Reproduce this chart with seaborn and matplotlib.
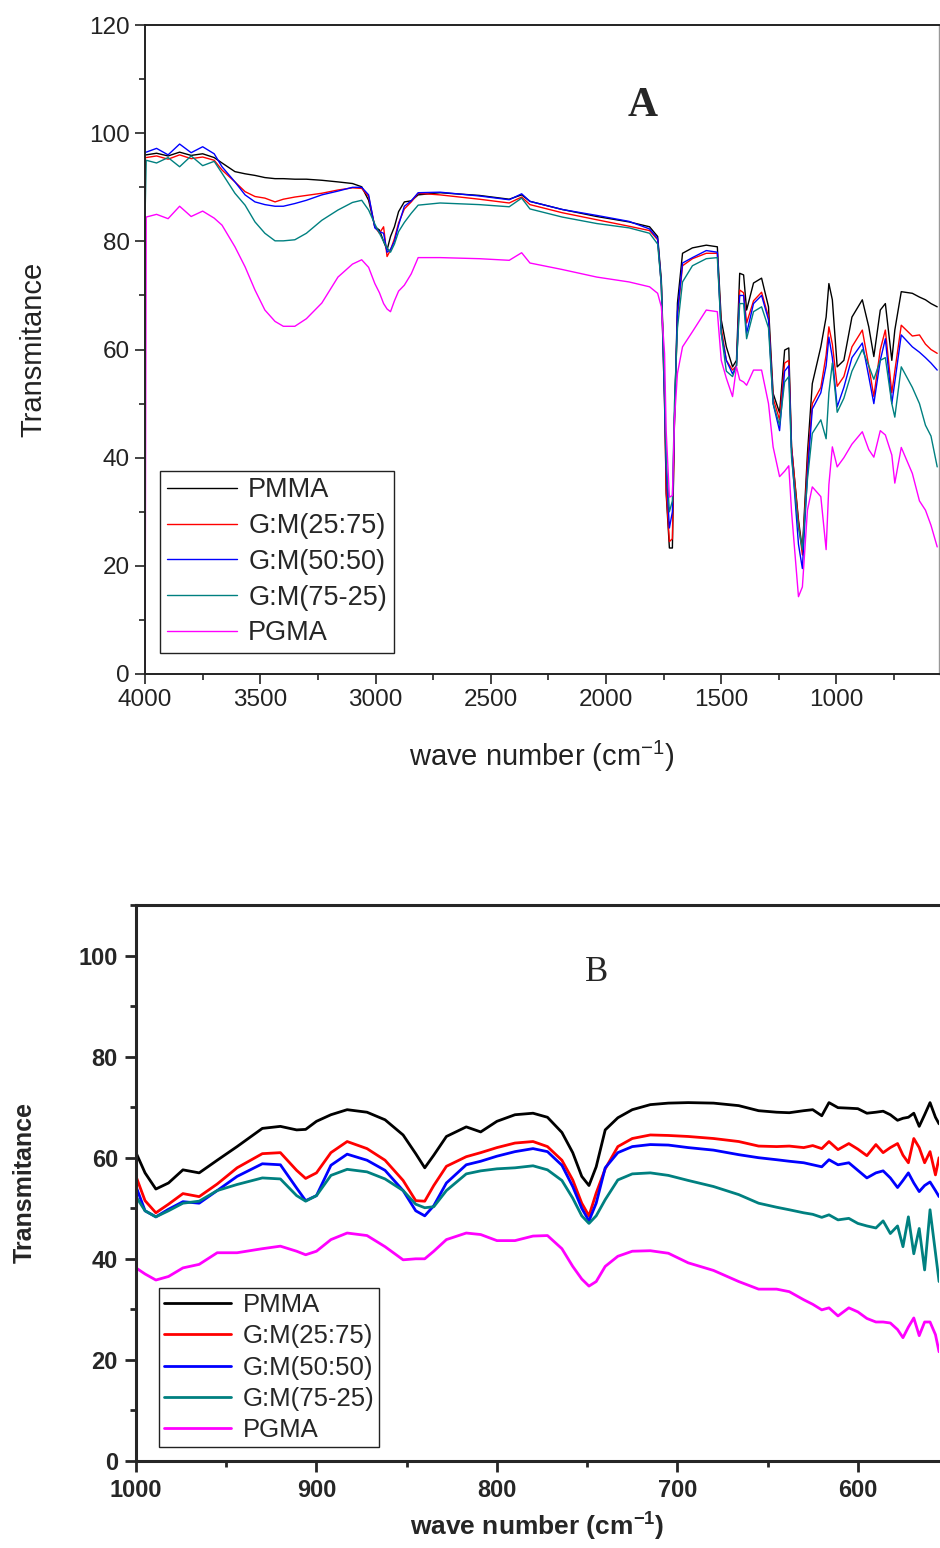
import matplotlib
matplotlib.use('Agg')
import matplotlib.pyplot as plt
from matplotlib.ticker import MultipleLocator
import seaborn as sns

# ---- panel A: full range spectra ----
wn_a = [4000, 3995, 3950, 3900, 3850, 3800, 3750, 3700,
        3666, 3610, 3566, 3523, 3480, 3436, 3400, 3350, 3300, 3233, 3163, 3100,
        3060, 3030, 3003, 2983, 2965, 2950, 2935, 2918, 2900, 2875, 2845, 2815,
        2720, 2550, 2420, 2366, 2330, 2190, 2040, 1900,
        1811, 1776, 1760, 1746, 1739, 1725, 1712, 1703, 1690, 1668, 1625, 1565, 1517, 1500,
        1478, 1451, 1434, 1420, 1403, 1390, 1360, 1325, 1295, 1275, 1247, 1225, 1207, 1195,
        1165, 1148, 1126, 1105, 1068, 1045, 1033, 1018, 997, 968, 933, 888,
        860, 838, 810, 788, 760, 747, 719, 671, 640, 614, 590, 563]

pmma_a = [96.0, 96.0, 96.3, 95.8, 96.5, 95.9, 96.2, 95.5,
          94.5, 92.9, 92.5, 92.2, 91.8, 91.6, 91.6, 91.5, 91.5, 91.3, 91.0, 90.7,
          90.1, 87.6, 82.7, 82.1, 80.0, 78.4, 80.9, 82.7, 85.5, 87.3, 87.5, 88.6,
          89.0, 88.5, 87.8, 88.6, 87.4, 85.9, 84.6, 83.6,
          82.7, 80.9, 72.9, 53.1, 33.4, 23.3, 23.3, 47.0, 68.6, 77.8, 78.8, 79.3, 79.0, 65.5,
          60.5, 56.8, 58.0, 74.1, 73.8, 67.3, 72.3, 73.2, 67.9, 51.9, 48.3, 59.9, 60.3, 42.0,
          28.5, 22.9, 40.8, 53.7, 60.5, 66.0, 72.2, 69.2, 56.8, 58.0, 66.0, 69.2,
          64.2, 58.7, 67.3, 68.5, 58.0, 63.6, 70.7, 70.4, 69.7, 69.2, 68.5, 67.9]

gm2575_a = [95.5, 95.5, 95.8, 95.2, 96.0, 95.3, 95.6, 95.0,
            93.2, 91.0, 89.2, 88.3, 88.0, 87.3, 87.8, 88.2, 88.5, 88.9, 89.5, 89.9,
            89.8, 88.3, 82.7, 81.5, 82.7, 77.2, 78.4, 80.5, 83.4, 86.0, 87.3, 88.9,
            88.6, 87.8, 87.1, 88.2, 86.8, 85.3, 84.0, 82.8,
            82.0, 80.3, 72.0, 50.0, 34.0, 24.5, 25.0, 47.0, 66.0, 75.5, 76.8, 77.8, 77.8, 64.0,
            58.0, 56.2, 57.0, 71.0, 70.5, 64.9, 69.0, 70.6, 66.0, 51.0, 47.0, 57.5, 58.0, 42.0,
            28.0, 22.0, 39.0, 50.0, 53.0, 59.0, 64.2, 61.0, 53.2, 55.0, 60.5, 63.6,
            57.0, 51.3, 60.0, 63.6, 52.0, 56.0, 64.5, 62.5, 62.7, 61.0, 60.0, 59.3]

gm5050_a = [96.5, 96.5, 97.2, 96.0, 98.0, 96.4, 97.5, 96.2,
            93.8, 91.0, 88.6, 87.3, 86.8, 86.5, 86.5, 87.0, 87.6, 88.6, 89.3, 90.0,
            90.0, 88.6, 82.5, 81.8, 81.5, 78.0, 78.5, 80.0, 83.0, 86.5, 87.5, 89.0,
            89.1, 88.4, 87.7, 88.8, 87.4, 85.9, 84.8, 83.7,
            82.3, 80.5, 72.0, 50.0, 38.0, 27.0, 30.0, 47.0, 67.0, 76.0, 77.0, 78.3, 78.0, 63.0,
            58.0, 55.5, 57.0, 70.0, 70.0, 63.0, 68.5, 70.0, 65.5, 50.0, 45.0, 56.0, 57.0, 41.0,
            24.0, 19.5, 37.0, 49.0, 52.0, 57.0, 62.3, 58.5, 49.4, 53.0, 58.5, 61.2,
            55.0, 50.0, 58.0, 62.0, 50.0, 54.0, 62.7, 60.5, 59.5, 58.5, 57.5, 56.2]

gm7525_a = [84.5, 95.0, 94.5, 95.5, 93.8, 95.8, 94.0, 94.8,
            92.6, 88.9, 86.7, 83.6, 81.5, 80.1, 80.1, 80.3, 81.5, 83.9, 85.8, 87.2,
            87.6, 85.8, 83.2, 81.5, 80.0, 78.8, 78.0, 79.5, 81.8, 83.5, 85.2, 86.7,
            87.1, 86.8, 86.4, 88.0, 86.0, 84.5, 83.3, 82.5,
            81.5, 79.5, 72.0, 52.0, 40.0, 30.0, 32.0, 50.0, 64.0, 72.5, 75.5, 76.8, 77.0, 63.0,
            56.0, 55.0, 57.0, 68.5, 68.5, 62.0, 67.0, 67.9, 64.0, 50.0, 46.0, 54.0, 55.0, 40.0,
            27.0, 23.0, 36.0, 44.5, 47.0, 43.5, 52.0, 57.5, 48.4, 51.0, 56.0, 60.0,
            57.0, 54.5, 58.0, 58.5, 50.0, 47.5, 56.8, 53.0, 50.0, 46.0, 44.0, 38.3]

pgma_a = [0.0, 84.5, 85.0, 84.2, 86.5, 84.6, 85.6, 84.3,
          83.0, 79.0, 75.3, 71.0, 67.3, 65.2, 64.3, 64.3, 65.7, 68.6, 73.4, 75.8,
          76.6, 75.2, 72.2, 70.5, 68.5, 67.5, 67.0, 69.0, 70.8, 71.9, 74.0, 77.0,
          77.0, 76.8, 76.5, 77.9, 76.0, 74.8, 73.4, 72.5,
          71.6, 70.4, 67.9, 59.3, 45.0, 32.7, 33.0, 47.0, 55.6, 60.5, 63.3, 67.3, 67.0, 58.0,
          54.7, 51.3, 56.8, 54.4, 54.0, 53.4, 56.2, 56.2, 50.0, 42.0, 36.5, 37.5, 38.5, 30.0,
          14.3, 16.1, 30.3, 34.6, 32.8, 23.0, 35.0, 42.0, 38.3, 40.0, 42.5, 44.8,
          41.5, 40.1, 45.0, 44.2, 40.5, 35.3, 41.9, 37.1, 32.0, 30.3, 27.5, 23.5]

# ---- panel B: 1000-555 cm-1 zoom ----
wn_b = [1000, 995, 989, 982, 974, 965, 955, 944, 930, 920,
        911, 906, 900, 892, 883, 872, 862, 852, 845, 840,
        835, 828, 817, 809, 800, 790, 780, 772, 764, 758,
        753, 749, 745, 740, 733, 725, 715, 705, 694, 680,
        666, 655, 645, 638, 630, 625, 620, 616, 611, 605,
        600, 595, 590, 586, 582, 578, 575, 572, 569, 566,
        563, 560, 557, 555]

pmma_b = [61.0, 57.0, 53.8, 55.0, 57.6, 57.0, 59.5, 62.2, 65.8, 66.2,
          65.5, 65.6, 67.2, 68.5, 69.5, 69.0, 67.5, 64.5, 60.8, 58.0,
          60.5, 64.2, 66.1, 65.1, 67.2, 68.5, 68.8, 68.0, 65.0, 61.0,
          56.3, 54.5, 58.2, 65.5, 67.9, 69.5, 70.5, 70.8, 70.9, 70.8,
          70.3, 69.3, 69.0, 68.9, 69.3, 69.5, 68.3, 70.9, 69.9, 69.8,
          69.7, 68.8, 69.0, 69.2, 68.5, 67.4, 67.8, 68.0, 68.8, 66.2,
          68.5, 70.9, 68.0, 66.7]

gm2575_b = [56.3, 51.5, 49.1, 50.8, 52.9, 52.3, 54.8, 58.0, 60.8, 61.0,
            57.5, 55.9, 57.0, 61.0, 63.2, 61.8, 59.5, 55.5, 51.5, 51.4,
            54.5, 58.3, 60.2, 61.0, 62.0, 62.9, 63.2, 62.2, 59.5, 55.6,
            51.0, 48.5, 53.0, 57.8, 62.2, 63.8, 64.5, 64.4, 64.2, 63.8,
            63.2, 62.3, 62.2, 62.3, 62.0, 62.4, 61.8, 63.2, 61.6, 62.8,
            61.7, 60.4, 62.6, 61.0, 62.0, 62.8, 60.5, 59.0, 63.8, 62.0,
            59.0, 61.2, 56.6, 60.0]

gm5050_b = [54.3, 49.5, 48.3, 49.8, 51.3, 51.0, 53.5, 56.3, 58.8, 58.6,
            54.0, 51.5, 52.5, 58.5, 60.7, 59.5, 57.5, 53.5, 49.5, 48.5,
            50.5, 55.0, 58.6, 59.3, 60.3, 61.2, 61.8, 61.2, 58.5, 54.3,
            50.0, 47.5, 51.0, 58.0, 61.0, 62.2, 62.6, 62.5, 62.0, 61.5,
            60.6, 60.0, 59.6, 59.3, 59.0, 58.6, 58.2, 59.6, 58.6, 59.0,
            57.5, 56.0, 57.0, 57.4, 56.0, 54.1, 55.5, 57.0, 55.0, 53.3,
            54.5, 55.2, 53.5, 52.3]

gm7525_b = [52.3, 49.5, 48.3, 49.5, 51.0, 51.4, 53.5, 54.7, 56.0, 55.8,
            52.5, 51.4, 52.5, 56.5, 57.7, 57.2, 55.8, 53.5, 50.8, 50.1,
            50.3, 53.5, 56.8, 57.4, 57.8, 58.0, 58.4, 57.6, 55.5, 52.0,
            48.5, 47.0, 48.5, 51.7, 55.6, 56.8, 57.0, 56.5, 55.5, 54.3,
            52.7, 51.0, 50.2, 49.7, 49.1, 48.8, 48.2, 48.7, 47.7, 48.0,
            47.0, 46.5, 46.1, 47.5, 45.0, 46.5, 42.4, 48.3, 41.0, 46.0,
            37.8, 49.7, 41.2, 35.5]

pgma_b = [38.2, 37.0, 35.8, 36.5, 38.2, 38.9, 41.2, 41.2, 42.0, 42.5,
          41.5, 40.8, 41.5, 43.8, 45.1, 44.6, 42.4, 39.8, 40.0, 40.0,
          41.5, 43.8, 45.1, 44.8, 43.6, 43.6, 44.5, 44.6, 42.0, 38.5,
          36.0, 34.6, 35.5, 38.5, 40.5, 41.5, 41.6, 41.1, 39.2, 37.7,
          35.5, 34.0, 34.0, 33.5, 31.9, 31.0, 29.9, 30.3, 28.7, 30.3,
          29.5, 28.2, 27.5, 27.5, 27.3, 26.0, 24.4, 26.5, 28.3, 24.8,
          27.5, 27.5, 25.0, 21.6]

labels = ['PMMA', 'G:M(25:75)', 'G:M(50:50)', 'G:M(75-25)', 'PGMA']
colors = ['#000000', '#ff0000', '#0000ff', '#008080', '#ff00ff']
series_a = [pmma_a, gm2575_a, gm5050_a, gm7525_a, pgma_a]
series_b = [pmma_b, gm2575_b, gm5050_b, gm7525_b, pgma_b]
for s in series_a:
    assert len(s) == len(wn_a)
for s in series_b:
    assert len(s) == len(wn_b)

sns.set_style('ticks')
plt.rcParams['font.family'] = ['Liberation Sans', 'DejaVu Sans']
plt.rcParams['mathtext.default'] = 'regular'

fig = plt.figure(figsize=(9.4, 15.48), dpi=100)
axA = fig.add_axes([0.1543, 0.5646, 0.8447, 0.4192])
axB = fig.add_axes([0.1447, 0.0562, 0.8543, 0.3592])

# Panel A
for vals, lab, col in zip(series_a, labels, colors):
    sns.lineplot(x=wn_a, y=vals, color=col, label=lab, lw=1.0, ax=axA, sort=False)
axA.set_xlim(4000, 555)
axA.set_ylim(0, 120)
axA.xaxis.set_major_locator(MultipleLocator(500))
axA.xaxis.set_minor_locator(MultipleLocator(250))
axA.yaxis.set_major_locator(MultipleLocator(20))
axA.yaxis.set_minor_locator(MultipleLocator(10))
axA.tick_params(which='both', direction='out', width=1.2, colors='#222222', labelsize=17.5, pad=4)
axA.tick_params(which='major', length=7)
axA.tick_params(which='minor', length=4)
for sp in ['left', 'bottom', 'top']:
    axA.spines[sp].set_linewidth(1.4)
    axA.spines[sp].set_color('#222222')
axA.spines['right'].set_color('#999999')
axA.spines['right'].set_linewidth(1.0)
axA.set_ylabel('Transmitance', fontsize=21, labelpad=30, color='#222222')
axA.set_xlabel(r'wave number (cm$^{-1}$)', fontsize=21, labelpad=20, color='#222222')
axA.text(0.627, 0.875, 'A', transform=axA.transAxes, ha='center', va='center',
         fontsize=30, fontweight='bold', family='Liberation Serif')
axA.legend(loc='lower left', bbox_to_anchor=(0.019, 0.032), fontsize=19.5,
           frameon=True, fancybox=False, edgecolor='#222222', framealpha=1,
           handlelength=2.6, handletextpad=0.4, labelspacing=0.36,
           borderpad=0.25, borderaxespad=0)

# Panel B
for vals, lab, col in zip(series_b, labels, colors):
    sns.lineplot(x=wn_b, y=vals, color=col, label=lab, lw=2.0, ax=axB, sort=False)
axB.set_xlim(1000, 555)
axB.set_ylim(0, 110)
axB.xaxis.set_major_locator(MultipleLocator(100))
axB.xaxis.set_minor_locator(MultipleLocator(50))
axB.yaxis.set_major_locator(MultipleLocator(20))
axB.yaxis.set_minor_locator(MultipleLocator(10))
axB.tick_params(which='both', direction='out', width=2, labelsize=17, pad=5)
axB.tick_params(which='major', length=8)
axB.tick_params(which='minor', length=4)
for lab in axB.get_xticklabels() + axB.get_yticklabels():
    lab.set_fontweight('bold')
for sp in ['left', 'bottom', 'top']:
    axB.spines[sp].set_linewidth(2.2)
axB.spines['right'].set_visible(False)
axB.set_ylabel('Transmitance', fontsize=18, fontweight='bold', labelpad=30)
axB.set_xlabel(r'wave number (cm$^{-1}$)', fontsize=19, fontweight='bold', labelpad=6)
axB.text(0.573, 0.878, 'B', transform=axB.transAxes, ha='center', va='center',
         fontsize=25, family='Liberation Serif')
axB.legend(loc='lower left', bbox_to_anchor=(0.0286, 0.025), fontsize=18.5,
           frameon=True, fancybox=False, edgecolor='#222222', framealpha=1,
           handlelength=2.6, handletextpad=0.45, labelspacing=0.28,
           borderpad=0.2, borderaxespad=0)

fig.savefig('out.png', dpi=100)
